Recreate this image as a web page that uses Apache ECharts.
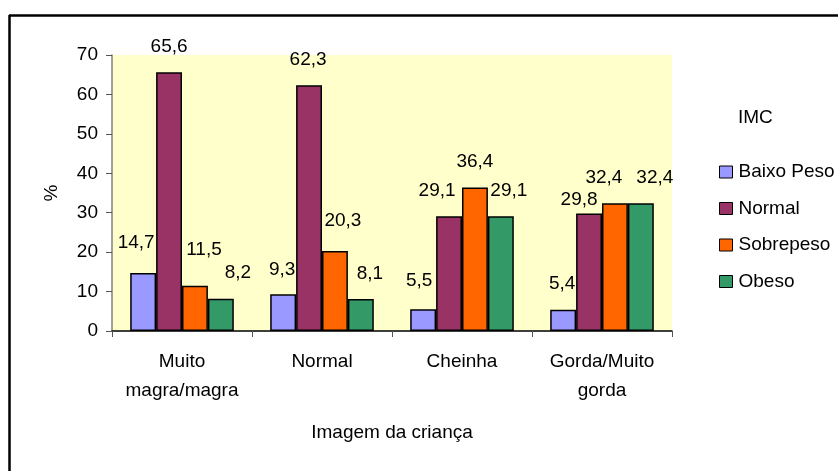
<!DOCTYPE html>
<html>
<head>
<meta charset="utf-8">
<script src="https://cdn.jsdelivr.net/npm/echarts@6/dist/echarts.min.js"></script>
<style>
  html, body { margin: 0; padding: 0; background: #fff; }
  #chart { width: 838px; height: 471px; }
</style>
</head>
<body>
<div id="chart"></div>
<script>
(function () {
  var categories = ['Muito\nmagra/magra', 'Normal', 'Cheinha', 'Gorda/Muito\ngorda']
  var baixoPeso = [14.7, 9.3, 5.5, 5.4]
  var normal = [65.6, 62.3, 29.1, 29.8]
  var sobrepeso = [11.5, 20.3, 36.4, 32.4]
  var obeso = [8.2, 8.1, 29.1, 32.4]

  // label nudges (px) so neighbouring labels do not collide, as in the original
  var baixoOff = [[-7, -5], [-1, 1], [-4, -3], [-1, 0]]
  var normalOff = [[0, 0], [-1, 0], [-12, 0], [-10, 12]]
  var sobreOff = [[9, -10], [8, -5], [0, 0], [-11, 0]]
  var obesoOff = [[17, 0], [9, 0], [8, 0], [14, 0]]

  var font = 'Liberation Sans, Arial, sans-serif'
  var myChart = echarts.init(document.getElementById('chart'))

  function bar(name, data, offsets, color) {
    return {
      name: name,
      type: 'bar',
      data: data.map(function (v, i) {
        return { value: v, label: { offset: offsets[i] } }
      }),
      barGap: 0,
      barCategoryGap: '26%',
      itemStyle: {
        color: color,
        borderColor: '#000',
        borderWidth: 1.5
      },
      label: {
        show: true,
        position: 'top',
        distance: 16,
        color: '#000',
        fontFamily: font,
        fontSize: 19,
        formatter: function (p) {
          return String(p.value).replace('.', ',')
        }
      }
    }
  }

  var option = {
    animation: false,
    backgroundColor: '#fff',
    title: {
      text: 'IMC',
      left: 733,
      top: 103,
      textStyle: { fontFamily: font, fontSize: 19, fontWeight: 'normal', color: '#000' }
    },
    legend: {
      orient: 'vertical',
      left: 714,
      top: 157,
      itemWidth: 13,
      itemHeight: 12,
      itemGap: 16.5,
      icon: 'rect',
      itemStyle: { borderColor: '#000', borderWidth: 1 },
      textStyle: { fontFamily: font, fontSize: 19, color: '#000', lineHeight: 20, padding: [0, 0, 0, 1] },
      data: ['Baixo Peso', 'Normal', 'Sobrepeso', 'Obeso']
    },
    grid: {
      left: 112,
      right: 166,
      top: 55,
      bottom: 140,
      show: true,
      backgroundColor: '#FFFFCC',
      borderWidth: 0
    },
    xAxis: {
      type: 'category',
      data: categories,
      name: 'Imagem da criança',
      nameLocation: 'middle',
      nameGap: 92,
      nameTextStyle: { fontFamily: font, fontSize: 19, color: '#000' },
      axisLine: { lineStyle: { color: '#000', width: 1.5 } },
      axisTick: { show: true, length: 6, lineStyle: { color: '#555' } },
      axisLabel: { fontFamily: font, fontSize: 19, color: '#000', margin: 16, lineHeight: 29, interval: 0 }
    },
    yAxis: {
      type: 'value',
      min: 0,
      max: 70,
      interval: 10,
      name: '%',
      nameLocation: 'middle',
      nameRotate: 90,
      nameGap: 51,
      nameTextStyle: { fontFamily: font, fontSize: 19, color: '#000' },
      axisLine: { show: true, lineStyle: { color: '#808080', width: 1.5 } },
      axisTick: { show: true, length: 6, lineStyle: { color: '#555' } },
      axisLabel: { fontFamily: font, fontSize: 19, color: '#000', margin: 14 },
      splitLine: { show: false }
    },
    graphic: [
      { type: 'line', shape: { x1: 9, y1: 15.5, x2: 838, y2: 15.5 }, style: { stroke: '#000', lineWidth: 2.5 } },
      { type: 'line', shape: { x1: 9.5, y1: 15, x2: 9.5, y2: 471 }, style: { stroke: '#000', lineWidth: 2.5 } }
    ],
    series: [
      bar('Baixo Peso', baixoPeso, baixoOff, '#9999FF'),
      bar('Normal', normal, normalOff, '#993366'),
      bar('Sobrepeso', sobrepeso, sobreOff, '#FF6600'),
      bar('Obeso', obeso, obesoOff, '#339966')
    ]
  }
  myChart.setOption(option)
})()
</script>
</body>
</html>
